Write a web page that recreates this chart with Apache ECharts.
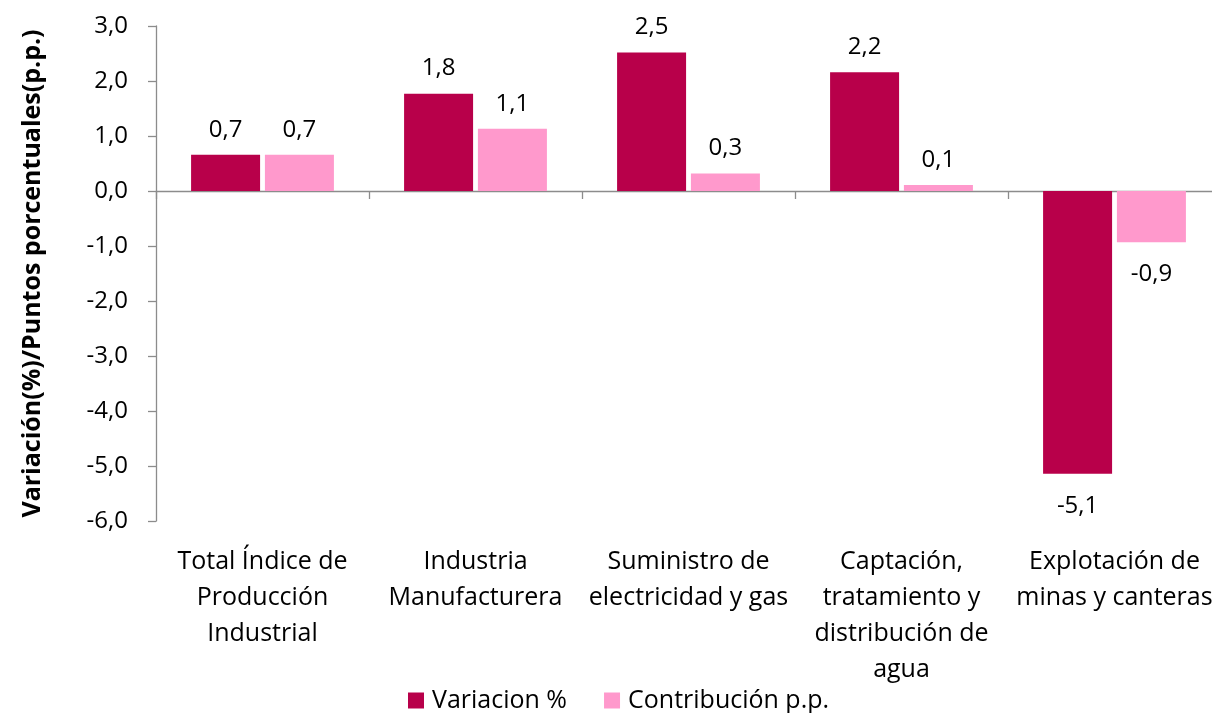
<!DOCTYPE html>
<html><head><meta charset="utf-8">
<script src="https://cdn.jsdelivr.net/npm/echarts@6/dist/echarts.min.js"></script>
<style>html,body{margin:0;padding:0;background:#fff;overflow:hidden;width:1212px;height:713px}#c{width:1221px;height:713px}</style>
</head><body><div id="c"></div>
<script>
const categories = ["Total Índice de\nProducción\nIndustrial", "Industria\nManufacturera", "Suministro de\nelectricidad y gas", "Captación,\ntratamiento y\ndistribución de\nagua", "Explotación de\nminas y canteras"];
const variacion = [0.66, 1.77, 2.52, 2.16, -5.14];
const contribucion = [0.66, 1.13, 0.32, 0.11, -0.93];
const yTicks = { min: -6, max: 3, interval: 1 };
const seriesNames = ["Variacion %", "Contribución p.p."];

const FONT = "'Open Sans', 'Noto Sans', sans-serif";
const FS = 24, FL = 25;
const fmt = v => v.toFixed(1).replace('.', ',');
function build(vals) {
  return vals.map(v => ({
    value: v,
    label: { position: v < 0 ? 'bottom' : 'top', distance: v < 0 ? 20 : 13 }
  }));
}
const chart = echarts.init(document.getElementById('c'));
chart.setOption({
  animation: false,
  textStyle: { fontFamily: FONT },
  grid: { left: 156, top: 26, right: 0, bottom: 192, containLabel: false },
  legend: {
    left: 408, top: 688, padding: 0, itemWidth: 16, itemHeight: 16, itemGap: 37,
    icon: 'rect',
    textStyle: { fontSize: FL, color: '#000', fontFamily: FONT, padding: [0, 0, 0, 3] },
    data: seriesNames
  },
  xAxis: [{
    type: 'category', data: categories,
    axisLine: { onZero: true, lineStyle: { color: '#8c8c8c', width: 1.3 } },
    axisTick: { show: true, length: 8, inside: false, lineStyle: { color: '#8c8c8c', width: 1.3 } },
    axisLabel: { show: false }
  }, {
    type: 'category', data: categories, position: 'bottom',
    axisLine: { show: false }, axisTick: { show: false },
    axisLabel: { show: true, interval: 0, fontSize: FL, lineHeight: 36, color: '#000', margin: 23, fontFamily: FONT }
  }],
  yAxis: {
    type: 'value', min: yTicks.min, max: yTicks.max, interval: yTicks.interval,
    name: 'Variación(%)/Puntos porcentuales(p.p.)', nameLocation: 'middle', nameGap: 111,
    nameTextStyle: { fontSize: FL, fontWeight: 'bold', color: '#000', fontFamily: FONT },
    axisLine: { show: true, lineStyle: { color: '#8c8c8c', width: 1.3 } },
    axisTick: { show: true, length: 8, lineStyle: { color: '#8c8c8c', width: 1.3 } },
    splitLine: { show: false },
    axisLabel: { fontSize: FS, color: '#000', margin: 28, formatter: v => fmt(v), fontFamily: FONT }
  },
  series: [{
    name: seriesNames[0], type: 'bar', xAxisIndex: 0, data: build(variacion),
    barWidth: 69, barGap: '7%',
    itemStyle: { color: '#B8004A' },
    label: { show: true, fontSize: FS, color: '#000', formatter: p => fmt(p.value), fontFamily: FONT }
  }, {
    name: seriesNames[1], type: 'bar', xAxisIndex: 0, data: build(contribucion),
    barWidth: 69, barGap: '7%',
    itemStyle: { color: '#FF99CC' },
    label: { show: true, fontSize: FS, color: '#000', formatter: p => fmt(p.value), fontFamily: FONT }
  }]
});
</script></body></html>
